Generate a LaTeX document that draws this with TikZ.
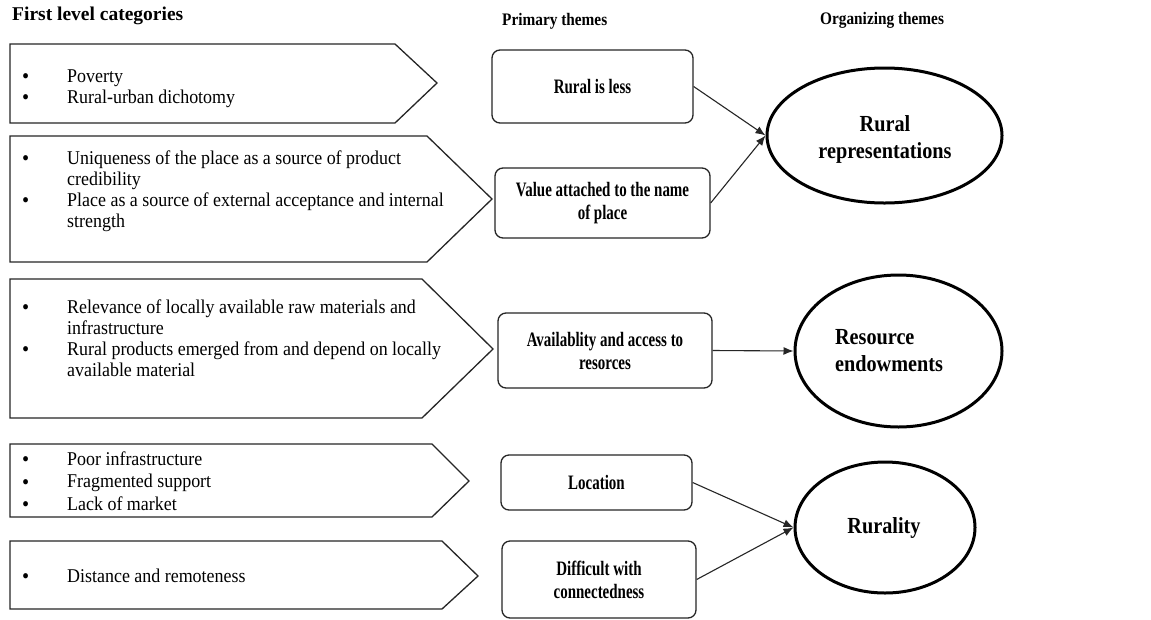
\documentclass[tikz,border=0pt]{standalone}
\usepackage{fontspec}
\setmainfont{Liberation Serif}
\newfontfamily\bodyfont[FakeStretch=0.92]{Liberation Serif}
\newfontfamily\boxfont[FakeStretch=0.73]{Liberation Serif}
\newfontfamily\ovalfont[FakeStretch=0.88]{Liberation Serif}
\newfontfamily\headfont[FakeStretch=0.87]{Liberation Serif}
\usetikzlibrary{shapes.geometric,arrows.meta}
\newcommand\bul{\raisebox{-1.5pt}{\fontsize{22}{21}\selectfont\textbullet}}
\tikzset{
  pent/.style={draw=black!85, line width=1.3pt, fill=white},
  bodytext/.style={anchor=base west, inner sep=0pt, font=\bodyfont\fontsize{19.5}{21}\selectfont},
  theme/.style={draw=black!85, line width=1.3pt, rounded corners=8pt, inner sep=0pt, align=center,
     font=\boxfont\bfseries\fontsize{20.5}{23}\selectfont},
  oval/.style={draw=black, line width=3pt, ellipse, inner sep=0pt},
  ovaltext/.style={inner sep=0pt, font=\ovalfont\bfseries\fontsize{23}{27}\selectfont},
  header/.style={anchor=base west, inner sep=0pt},
  link/.style={draw=black!85, line width=1.1pt, -{Latex[length=10pt,width=8pt]}}
}
\begin{document}
\begin{tikzpicture}[x=1pt,y=-1pt]
\useasboundingbox[fill=white] (0,0) rectangle (1151,619);

% headers
\node[header, font=\bfseries\fontsize{19.5}{22}\selectfont] (h1) at (12,20) {First level categories};
\node[header, font=\headfont\bfseries\fontsize{17.6}{20}\selectfont] (h2) at (502,25) {Primary themes};
\node[header, font=\headfont\bfseries\fontsize{17.6}{20}\selectfont] (h3) at (820,24) {Organizing themes};

% pentagons
\draw[pent] (10,44) -- (395,44) -- (437,83) -- (395,123) -- (10,123) -- cycle;
\draw[pent] (10,136) -- (427,136) -- (492,199) -- (427,262) -- (10,262) -- cycle;
\draw[pent] (10,279) -- (422,279) -- (493,349) -- (422,418) -- (10,418) -- cycle;
\draw[pent] (10,444) -- (432,444) -- (469,481) -- (432,517) -- (10,517) -- cycle;
\draw[pent] (10,541) -- (442,541) -- (478,576) -- (442,609) -- (10,609) -- cycle;

% first level texts
\node[bodytext] (c1) at (22,82) {\begin{tabular}[t]{@{}p{45pt}@{}l@{}}
\bul & Poverty\\
\bul & Rural-urban dichotomy
\end{tabular}};
\node[bodytext] (c2) at (22,164) {\begin{tabular}[t]{@{}p{45pt}@{}l@{}}
\bul & Uniqueness of the place as a source of product\\
 & credibility\\
\bul & Place as a source of external acceptance and internal\\
 & strength
\end{tabular}};
\node[bodytext] (c3) at (22,313) {\begin{tabular}[t]{@{}p{45pt}@{}l@{}}
\bul & Relevance of locally available raw materials and\\
 & infrastructure\\
\bul & Rural products emerged from and depend on locally\\
 & available material
\end{tabular}};
\node[bodytext, font=\bodyfont\fontsize{19.5}{22.5}\selectfont] (c4) at (22,465) {\begin{tabular}[t]{@{}p{45pt}@{}l@{}}
\bul & Poor infrastructure\\
\bul & Fragmented support\\
\bul & Lack of market
\end{tabular}};
\node[bodytext] (c5) at (22,582) {\begin{tabular}[t]{@{}p{45pt}@{}l@{}}
\bul & Distance and remoteness
\end{tabular}};

% primary themes
\node[theme, minimum width=201pt, minimum height=73pt] (p1) at (592.5,86.5) {Rural is less};
\node[theme, minimum width=215pt, minimum height=70pt] (p2) at (602.5,203) {Value attached to the name\\of place};
\node[theme, minimum width=214pt, minimum height=75pt] (p3) at (605,350.5) {Availablity and access to\\resorces};
\node[theme, minimum width=191pt, minimum height=55pt] (p4) at (596.5,482.5) {Location};
\node[theme, minimum width=194pt, minimum height=77pt] (p5) at (599,579.5) {Difficult with\\connectedness};

% organizing themes
\node[oval, minimum width=235pt, minimum height=135pt] (o1) at (884.5,135.5) {};
\node[ovaltext, align=center] (t1) at (885,139) {Rural\\representations};
\node[oval, minimum width=207pt, minimum height=152pt] (o2) at (898.5,351) {};
\node[ovaltext, align=left] (t2) at (889,351) {Resource\\endowments};
\node[oval, minimum width=180pt, minimum height=131pt] (o3) at (885,527.5) {};
\node[ovaltext] (t3) at (884,528) {Rurality};

% connectors
\draw[link] (p1.east) -- (o1.west);
\draw[link] (p2.east) -- (o1.west);
\draw[link] (p3.east) -- (o2.west);
\draw[link] (p4.east) -- (o3.west);
\draw[link] (p5.east) -- (o3.west);
\end{tikzpicture}
\end{document}
